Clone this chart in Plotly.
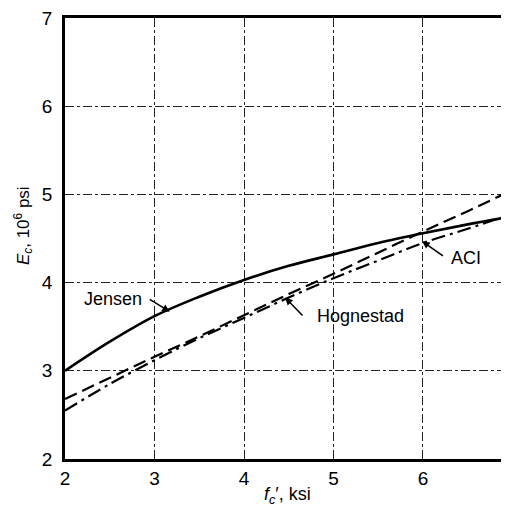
import plotly.graph_objects as go

fc = [2, 2.5, 3, 3.5, 4, 4.5, 5, 5.5, 6, 6.5, 7]
jensen = [3.0, 3.33, 3.62, 3.84, 4.03, 4.19, 4.32, 4.45, 4.56, 4.66, 4.75]
hognestad = [2.68, 2.92, 3.16, 3.39, 3.63, 3.87, 4.10, 4.34, 4.58, 4.81, 5.05]
aci = [2.55, 2.85, 3.12, 3.37, 3.60, 3.83, 4.05, 4.25, 4.45, 4.61, 4.78]
ticks = [2, 3, 4, 5, 6, 7]

FONT = "Liberation Sans, Arial, sans-serif"

fig = go.Figure()
fig.add_trace(go.Scatter(x=fc, y=jensen, mode="lines", line=dict(color="black", width=2.6, shape="spline"), name="Jensen"))
fig.add_trace(go.Scatter(x=fc, y=hognestad, mode="lines", line=dict(color="black", width=2.2, dash="13px,6px"), name="Hognestad"))
fig.add_trace(go.Scatter(x=fc, y=aci, mode="lines", line=dict(color="black", width=2.2, dash="14px,5px,3px,5px", shape="spline"), name="ACI"))

def label(text, x, y):
    fig.add_annotation(x=x, y=y, text=text, showarrow=False, font=dict(family=FONT, size=18, color="black"))

def arrow(x0, y0, x1, y1):
    fig.add_annotation(x=x1, y=y1, ax=x0, ay=y0, xref="x", yref="y", axref="x", ayref="y",
                       text="", showarrow=True, arrowhead=2, arrowsize=1, arrowwidth=1.5, arrowcolor="black")

label("Jensen", 2.54, 3.81)
arrow(2.93, 3.82, 3.17, 3.67)
label("Hognestad", 5.30, 3.62)
arrow(4.67, 3.61, 4.46, 3.83)
label("ACI", 6.48, 4.28)
arrow(6.24, 4.29, 5.99, 4.47)

axis_common = dict(
    showgrid=True, gridcolor="#222", gridwidth=1, griddash="dashdot",
    zeroline=False, showline=True, linecolor="black", linewidth=2.6,
    ticks="", tickfont=dict(family=FONT, size=19, color="black"),
    ticklabeloverflow="allow",
)
fig.update_xaxes(range=[2, 6.961], tickvals=ticks, ticktext=[str(t) for t in ticks], mirror=True,
                 ticklabelstandoff=0, **axis_common)
fig.update_yaxes(range=[2, 7], tickvals=ticks, ticktext=[str(t) for t in ticks],
                 ticklabelstandoff=6, **axis_common)

fig.add_annotation(xref="paper", yref="paper", x=0.5, y=-0.083, yanchor="middle",
                   text="<i>f<sub>c</sub></i>′, ksi", showarrow=False,
                   font=dict(family=FONT, size=18, color="black"))
fig.add_annotation(xref="paper", yref="paper", x=-0.095, y=0.53, xanchor="center",
                   text="<i>E<sub>c</sub></i>, 10<sup>6</sup> psi", textangle=-90, showarrow=False,
                   font=dict(family=FONT, size=17, color="black"))

fig.update_layout(
    width=501, height=504,
    margin=dict(l=57, r=0, t=6, b=53),
    plot_bgcolor="white", paper_bgcolor="white",
    showlegend=False,
)
fig.write_html("out.html")
